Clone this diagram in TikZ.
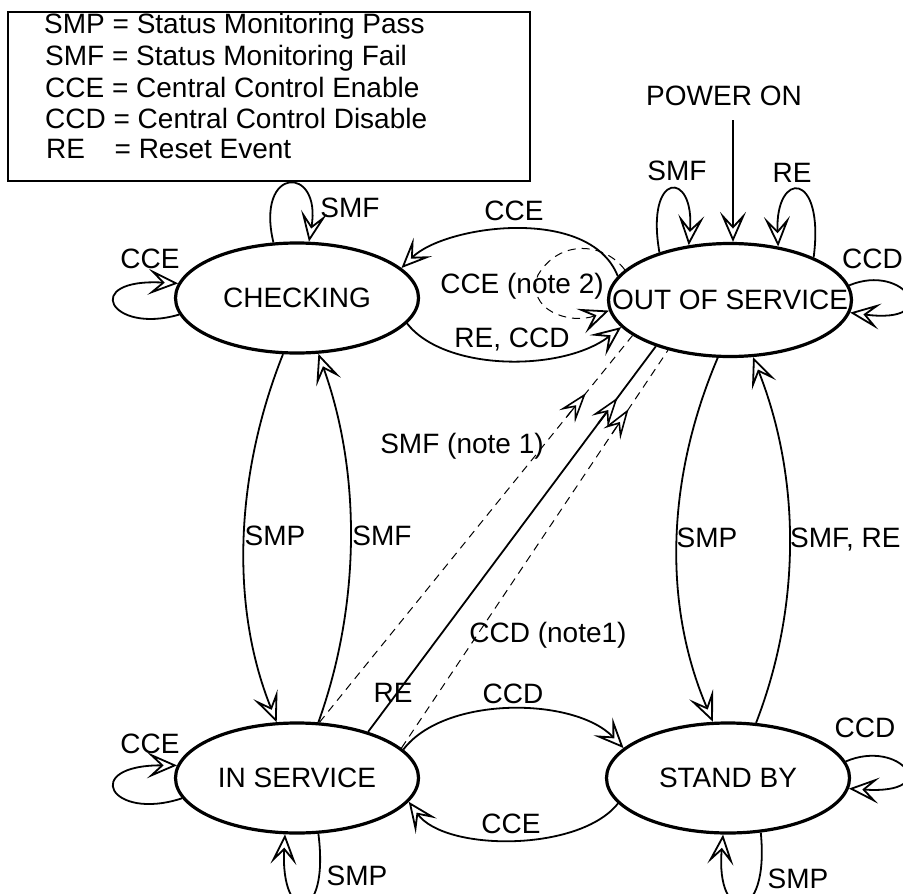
\documentclass[tikz,border=0pt]{standalone}
\usepackage{fontspec}
\setmainfont{Liberation Sans}
\usetikzlibrary{arrows.meta,shapes.geometric}
\begin{document}
\begin{tikzpicture}[x=1pt,y=-1pt,
  state/.style={ellipse,draw,line width=3.2pt,minimum width=243pt,minimum height=110pt,inner sep=0pt,font=\fontsize{28}{33}\selectfont},
  edge/.style={draw,line width=1.8pt},
  arr/.style={-{Stealth[length=30pt,width=26pt,inset=14pt,fill=white,line width=1.8pt]}},
  darr/.style={-{Stealth[length=30pt,width=20pt,inset=12pt,fill=white,line width=1.6pt]}},
  lbl/.style={anchor=base,inner sep=0pt,font=\fontsize{28}{33}\selectfont},
  note/.style={draw,line width=1pt,dash pattern=on 8pt off 6pt}
]
\useasboundingbox (0,0) rectangle (903,894);
\clip (0,0) rectangle (903,894);

% legend
\draw[line width=2pt] (8,12) rectangle (530,181);
\node[lbl,anchor=base west] (l1) at (44,33) {SMP = Status Monitoring Pass};
\node[lbl,anchor=base west] (l2) at (45,65) {SMF = Status Monitoring Fail};
\node[lbl,anchor=base west] (l3) at (45,97) {CCE = Central Control Enable};
\node[lbl,anchor=base west] (l4) at (45,128) {CCD = Central Control Disable};
\node[lbl,anchor=base west] (l5) at (46,158) {\rlap{RE}\hphantom{SMP} = Reset Event};

% states
\node[state] (chk) at (297,298) {\makebox[0pt]{CHECKING}};
\node[state,minimum height=113pt] (oos) at (730,300) {\makebox[0pt]{OUT OF SERVICE}};
\node[state] (ins) at (297,778) {\makebox[0pt]{IN SERVICE}};
\node[state] (sby) at (728,778) {\makebox[0pt]{STAND BY}};

% CHECKING self loops
\draw[edge,arr] (chk.113) .. controls (255,165) and (322,165) .. (chk.78);
\draw[edge,arr] (chk.188) .. controls (110,335) and (80,278) .. (chk.173);
\node[lbl] (t1) at (350,217) {SMF};
\node[lbl] (t2) at (150,268) {CCE};

% CHECKING <-> OUT OF SERVICE
\draw[edge,arr] (oos.168) .. controls (590,205) and (445,225) .. (chk.16);
\node[lbl] (t3) at (514,220) {CCE};
\draw[edge,arr] (chk.-13) .. controls (445,372) and (563,372) .. (oos.194);
\node[lbl] (t4) at (512,347) {RE, CCD};
\draw[note,arr] (oos.164) .. controls (605,243) and (560,238) .. (538,275) .. controls (525,310) and (570,325) .. (oos.185);
\node[lbl] (t5) at (522,293) {CCE (note 2)};

% OUT OF SERVICE loops and power on
\draw[edge,arr] (oos.146) .. controls (645,170) and (695,170) .. (oos.127);
\node[lbl] (t6) at (677,180) {SMF};
\draw[edge,arr] (oos.27) .. controls (825,170) and (775,170) .. (oos.48);
\node[lbl] (t7) at (792,182) {RE};
\coordinate (pw) at (733,120);
\draw[edge,arr] (pw) -- (pw |- oos.north);
\node[lbl] (t8) at (724,105) {POWER ON};
\draw[edge,arr] (oos.7) .. controls (905,262) and (945,325) .. (oos.-6);
\node[lbl,anchor=base west] (t9) at (842,268) {CCD};

% CHECKING <-> IN SERVICE
\draw[edge,arr] (chk.-104) .. controls (236,472) and (229,604) .. (ins.110);
\node[lbl] (t10) at (275,545) {SMP};
\draw[edge,arr] (ins.69) .. controls (361,604) and (361,472) .. (chk.-69);
\node[lbl] (t11) at (382,545) {SMF};

% OUT OF SERVICE <-> STAND BY
\draw[edge,arr] (oos.-102) .. controls (667,477) and (662,603) .. (sby.105);
\node[lbl] (t12) at (707,547) {SMP};
\draw[edge,arr] (sby.63) .. controls (802,604) and (800,476) .. (oos.-68);
\node[lbl,anchor=base west] (t13) at (790,547) {SMF, RE};

% diagonals IN SERVICE -> OUT OF SERVICE
\draw[note] (ins.68) -- coordinate[pos=0.79] (d1s) coordinate[pos=0.851] (d1t) (oos.200);
\draw[edge,darr,line width=1.2pt] (d1s) -- (d1t);
\node[lbl] (t14) at (462,453) {SMF (note 1)};
\draw[edge] (ins.33) -- coordinate[pos=0.80] (d2s) coordinate[pos=0.867] (d2t) (oos.-148);
\draw[edge,darr] (d2s) -- (d2t);
\node[lbl] (t15) at (393,702) {RE};
\draw[note] (ins.16) -- coordinate[pos=0.79] (d3s) coordinate[pos=0.852] (d3t) (oos.-141);
\draw[edge,darr,line width=1.2pt] (d3s) -- (d3t);
\node[lbl] (t16) at (548,642) {CCD (note1)};

% IN SERVICE <-> STAND BY
\draw[edge,arr] (ins.15) .. controls (445,695) and (575,697) .. (sby.164);
\node[lbl] (t17) at (513,703) {CCD};
\draw[edge,arr] (sby.193) .. controls (580,852) and (445,852) .. (ins.-12);
\node[lbl] (t18) at (511,833) {CCE};

% IN SERVICE loops
\draw[edge,arr] (ins.190) .. controls (110,822) and (80,765) .. (ins.174);
\node[lbl] (t19) at (150,753) {CCE};
\draw[edge,arr] (ins.-69) .. controls (330,925) and (280,925) .. (ins.-102);
\node[lbl] (t20) at (357,885) {SMP};

% STAND BY loops
\draw[edge,arr] (sby.8) .. controls (900,738) and (945,795) .. (sby.-5);
\node[lbl] (t21) at (865,737) {CCD};
\draw[edge,arr] (sby.-59) .. controls (770,925) and (715,925) .. (sby.-95);
\node[lbl] (t22) at (798,888) {SMP};
\end{tikzpicture}
\end{document}
